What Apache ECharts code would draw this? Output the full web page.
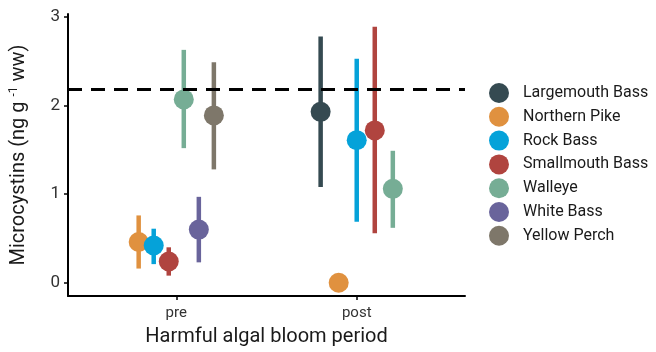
<!DOCTYPE html>
<html>
<head>
<meta charset="utf-8">
<script src="https://cdn.jsdelivr.net/npm/echarts@6/dist/echarts.min.js"></script>
<style>html,body{margin:0;padding:0;background:#fff}#c{width:656px;height:352px}</style>
</head>
<body>
<div id="c"></div>
<script>
const periods = ['pre', 'post'];
const species = ['Largemouth Bass', 'Northern Pike', 'Rock Bass', 'Smallmouth Bass', 'Walleye', 'White Bass', 'Yellow Perch'];
const colors = ['#354a51', '#e0913f', '#05a2d9', '#b0443f', '#76ad95', '#69649b', '#7e776a'];
const meanPre  = [null, 0.46, 0.42, 0.24, 2.07, 0.60, 1.89];
const lowPre   = [null, 0.16, 0.21, 0.08, 1.52, 0.23, 1.28];
const highPre  = [null, 0.76, 0.61, 0.40, 2.63, 0.97, 2.49];
const meanPost = [1.93, 0.00, 1.61, 1.72, 1.06, null, null];
const lowPost  = [1.08, null, 0.69, 0.56, 0.62, null, null];
const highPost = [2.78, null, 2.53, 2.89, 1.49, null, null];
const threshold = 2.18;
const yTicks = [0, 1, 2, 3];

const FONT = "'Roboto', sans-serif";
const means = [meanPre, meanPost], lows = [lowPre, lowPost], highs = [highPre, highPost];
const dodgeWidth = 0.5;
const pos = {};
periods.forEach((p, pi) => {
  const present = species.map((s, i) => i).filter(i => means[pi][i] !== null);
  const n = present.length;
  pos[pi] = {};
  present.forEach((si, k) => { pos[pi][si] = (pi + 1) + (k - (n - 1) / 2) * dodgeWidth / n; });
});

const series = [];
species.forEach((name, si) => {
  const pts = [], bars = [];
  periods.forEach((p, pi) => {
    const m = means[pi][si];
    if (m === null) return;
    const x = pos[pi][si];
    pts.push([x, m]);
    if (lows[pi][si] !== null) bars.push([x, lows[pi][si], highs[pi][si]]);
  });
  series.push({
    type: 'custom', name: name + ' err', data: bars, z: 2, silent: true,
    renderItem: (params, api) => {
      const a = api.coord([api.value(0), api.value(1)]);
      const b = api.coord([api.value(0), api.value(2)]);
      return { type: 'line', shape: { x1: a[0], y1: a[1], x2: b[0], y2: b[1] },
        style: { stroke: colors[si], lineWidth: 4.5 } };
    }
  });
  series.push({
    type: 'scatter', name: name, data: pts, symbol: 'circle', symbolSize: 20, z: 3,
    itemStyle: { color: colors[si], opacity: 1 }
  });
});
series.push({
  type: 'line', name: 'threshold', data: [], z: 5,
  markLine: { silent: true, symbol: 'none', label: { show: false },
    lineStyle: { color: '#000', width: 3, type: [14, 9] },
    data: [{ yAxis: threshold }] }
});

const chart = echarts.init(document.getElementById('c'), null, { renderer: 'canvas' });
chart.setOption({
  animation: false,
  textStyle: { fontFamily: FONT },
  grid: { left: 67, right: 191, top: 14, bottom: 53 },
  legend: {
    data: species, orient: 'vertical', left: 484, top: 78,
    icon: 'circle', itemWidth: 38, itemHeight: 20, itemGap: 3.8,
    textStyle: { fontFamily: FONT, fontSize: 16, color: '#1a1a1a' }
  },
  xAxis: {
    type: 'value', min: 0.4, max: 2.6,
    name: 'Harmful algal bloom period', nameLocation: 'middle', nameGap: 31,
    nameTextStyle: { fontFamily: FONT, fontSize: 20, color: '#1a1a1a' },
    splitLine: { show: false },
    axisLine: { show: true, onZero: false, lineStyle: { color: '#000', width: 2 } },
    axisTick: { show: true, length: 4, customValues: [1, 2], lineStyle: { color: '#000', width: 1.5 } },
    axisLabel: { customValues: [1, 2], formatter: v => periods[Math.round(v) - 1] || '',
      fontFamily: FONT, fontSize: 15, color: '#333', margin: 10 }
  },
  yAxis: {
    type: 'value', min: -0.15, max: 3.035,
    name: 'Microcystins (ng g {sup|-1} ww)', nameLocation: 'middle', nameGap: 38, nameRotate: 90,
    nameTextStyle: { fontFamily: FONT, fontSize: 20, color: '#1a1a1a',
      rich: { sup: { fontFamily: FONT, fontSize: 12, color: '#1a1a1a', verticalAlign: 'top', padding: [0, 0, 10, 0] } } },
    splitLine: { show: false },
    axisLine: { show: true, onZero: false, lineStyle: { color: '#000', width: 2 } },
    axisTick: { show: true, length: 4, customValues: yTicks, lineStyle: { color: '#000', width: 1.5 } },
    axisLabel: { customValues: yTicks, fontFamily: FONT, fontSize: 17, color: '#333', margin: 8 }
  },
  series: series
});
</script>
</body>
</html>
